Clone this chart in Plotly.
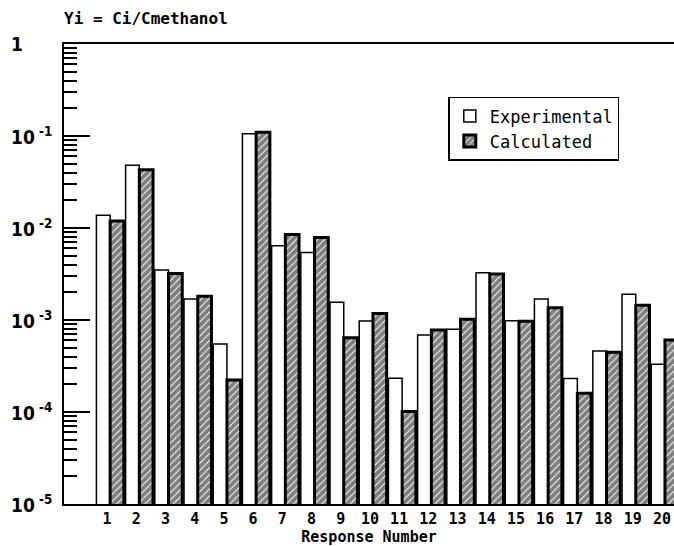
import math
import plotly.graph_objects as go

responses = list(range(1, 21))
experimental = [0.0138, 0.0481, 0.00349, 0.00169, 0.000548, 0.106, 0.0064, 0.00542,
                0.00156, 0.000975, 0.000233, 0.000687, 0.000792, 0.00326, 0.000984,
                0.00169, 0.000231, 0.00046, 0.0019, 0.00033]
calculated = [0.0119, 0.0431, 0.00321, 0.00181, 0.000223, 0.1096, 0.0085, 0.00789,
              0.000642, 0.00118, 0.000101, 0.000778, 0.00102, 0.00316, 0.00097,
              0.00136, 0.00016, 0.000446, 0.00145, 0.000607]
y_tickvals = [1e-5, 1e-4, 1e-3, 1e-2, 1e-1, 1]
y_ticktext = ["10<sup> -5</sup>", "10<sup> -4</sup>", "10<sup> -3</sup>",
              "10<sup> -2</sup>", "10<sup> -1</sup>", "1"]
minor_vals = [m * 10.0 ** e for e in range(-5, 0) for m in range(2, 10)]

mono = "DejaVu Sans Mono"

fig = go.Figure()
fig.add_trace(go.Bar(
    x=responses, y=experimental, name="Experimental",
    marker=dict(color="white", line=dict(color="black", width=1.5)),
))
fig.add_trace(go.Bar(
    x=responses, y=calculated, name="Calculated",
    marker=dict(color="white", line=dict(color="black", width=3),
                pattern=dict(shape="/", fgcolor="black", bgcolor="white",
                             size=5, solidity=0.8)),
))

fig.update_layout(
    width=674, height=546,
    margin=dict(l=64, r=0, t=44, b=42, autoexpand=False),
    paper_bgcolor="white", plot_bgcolor="white",
    barmode="group", bargap=0.06, bargroupgap=0,
    showlegend=True,
    legend=dict(x=0.63, y=0.885, xanchor="left", yanchor="top",
                bordercolor="black", borderwidth=1.5, bgcolor="white",
                font=dict(family=mono, size=17, color="black"),
                tracegroupgap=0, itemwidth=30),
    xaxis=dict(range=[-0.58, 20.31], tickmode="array", tickvals=responses,
               ticktext=[str(r) for r in responses], ticks="",
               showline=True, linecolor="black", linewidth=2, mirror=True,
               showgrid=False, zeroline=False, automargin=False,
               ticklabelshift=-3, ticklabeloverflow="allow",
               tickfont=dict(family=mono, size=15, color="black", weight="bold"),
               title=dict(text="Response Number", standoff=2,
                          font=dict(family=mono, size=15, color="black", weight="bold"))),
    yaxis=dict(type="log", range=[-5, 0], tickmode="array",
               tickvals=y_tickvals, showticklabels=False, automargin=False,
               ticks="inside", ticklen=26, tickwidth=1.5, tickcolor="black",
               showline=True, linecolor="black", linewidth=2, mirror=False,
               showgrid=False, zeroline=False,
               minor=dict(tickmode="array", tickvals=minor_vals, ticks="inside",
                          ticklen=13, tickwidth=1.5, tickcolor="black", showgrid=False)),
)

# y tick labels, left aligned like the original
for v, t in zip(y_tickvals, y_ticktext):
    fig.add_annotation(text=t, xref="paper", yref="y", x=(9 - 64) / 610,
                       y=math.log10(v), xanchor="left", yanchor="middle",
                       showarrow=False,
                       font=dict(family="DejaVu Sans Condensed", size=19,
                                 color="black", weight="bold"))

fig.add_annotation(text="Yi = Ci/Cmethanol", xref="paper", yref="paper",
                   x=-0.004, y=(504 - 18) / 460, xanchor="left", yanchor="middle",
                   showarrow=False, font=dict(family=mono, size=16, color="black", weight="bold"))

fig.write_html("out.html")
